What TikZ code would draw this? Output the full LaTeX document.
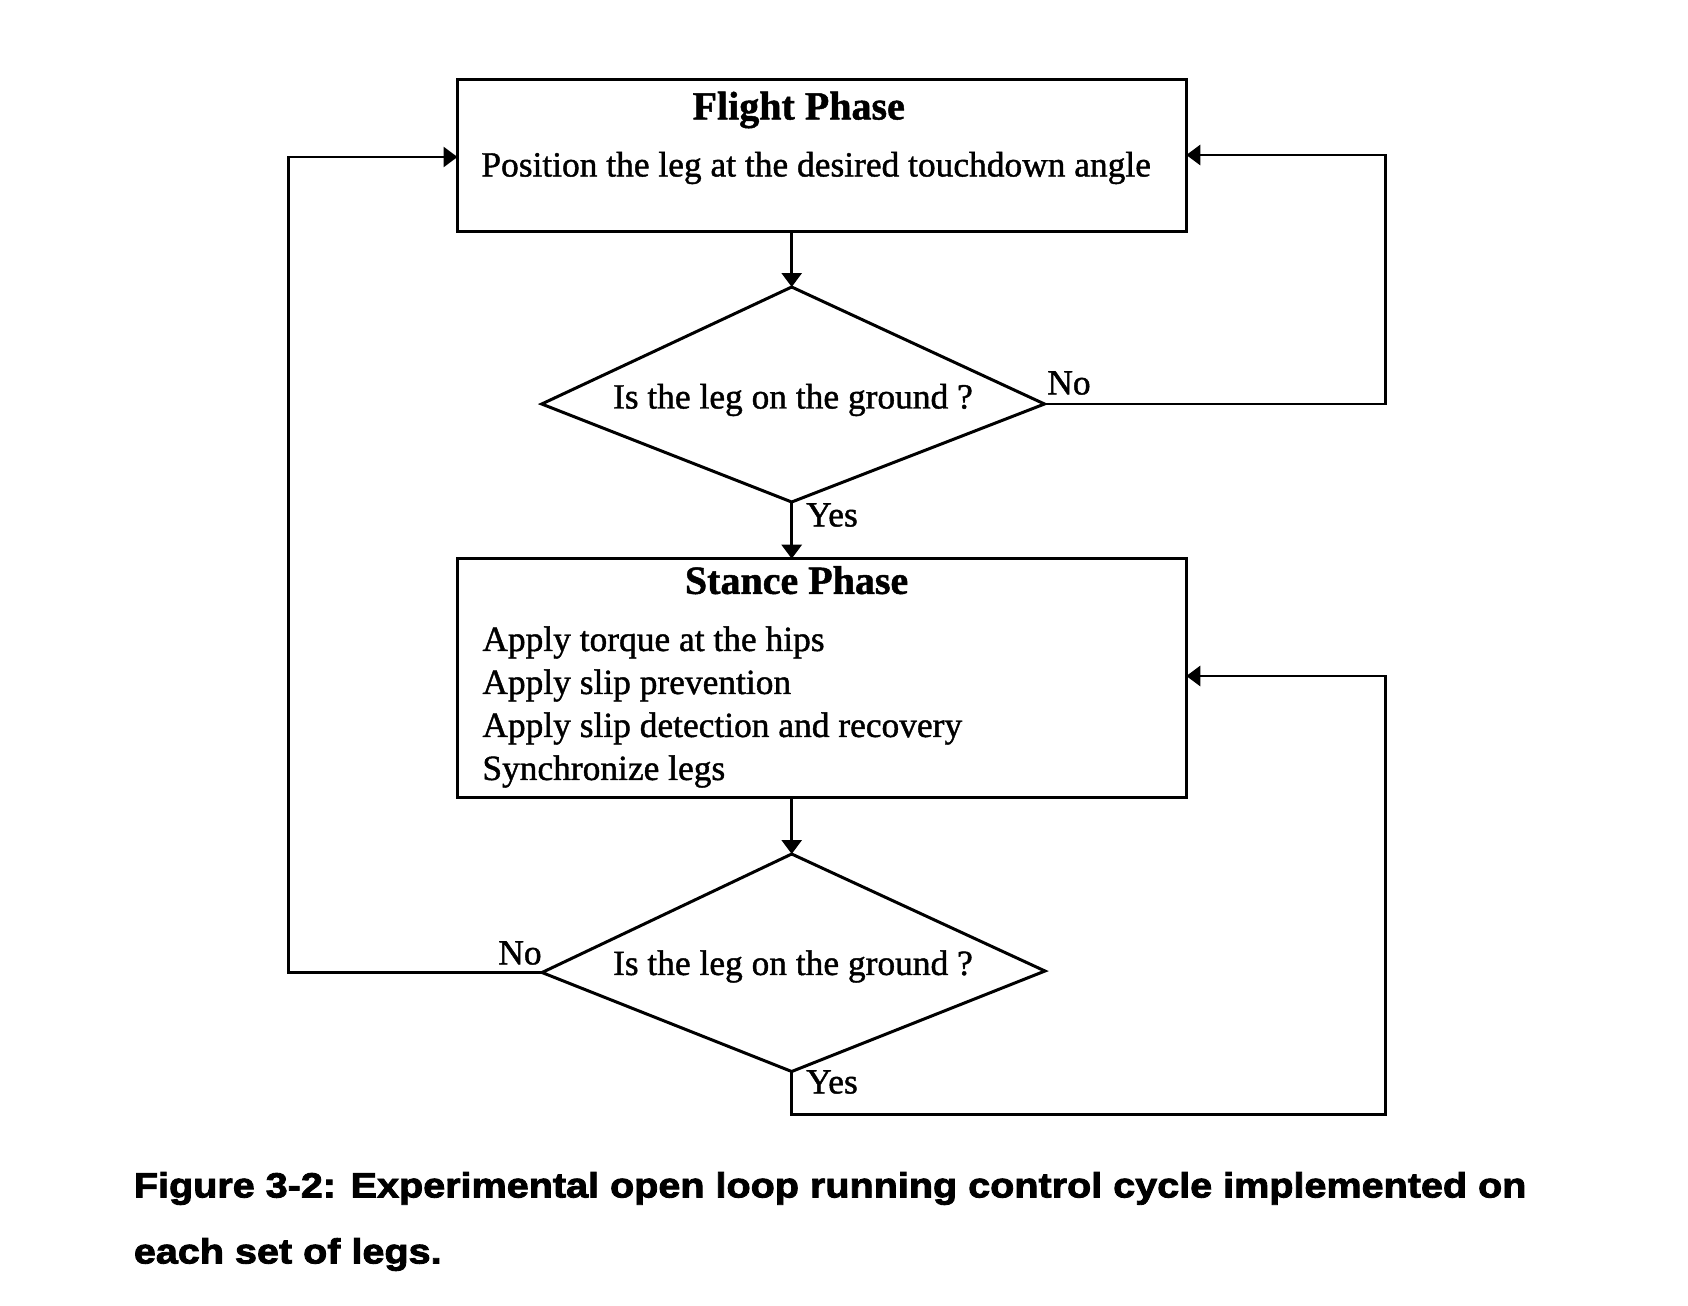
\documentclass[tikz,border=0pt]{standalone}
\usepackage{fontspec}
\setmainfont[FakeBold=1.2]{Liberation Serif}
\newfontfamily\capfont[FakeStretch=1.13, FakeBold=2.5]{Liberation Sans}
\usepackage{tikz}
\usetikzlibrary{arrows.meta}

\tikzset{
  phasebox/.style={draw, line width=1.5pt, minimum width=364.4pt, inner sep=0pt, outer sep=0pt},
  query/.style={line width=1.5pt, line join=miter},
  flow/.style={line width=1.4pt, -{Triangle[length=7pt, width=10pt]}},
  txt/.style={font=\fontsize{17.7}{21.5}\selectfont, inner sep=0pt},
  head/.style={font=\fontsize{20}{24}\selectfont\bfseries, inner sep=0pt}
}

\begin{document}
\begin{tikzpicture}[x=0.5pt, y=-0.5pt]
            \useasboundingbox (0, 0) rectangle (1688, 1306);

            \node (flight) at (821.9, 155.5) [phasebox, minimum height=75.9pt] {};
            \node (stance) at (821.9, 678.2) [phasebox, minimum height=119.5pt] {};

            % the two tests, drawn corner by corner
            \coordinate (d1n) at (791.7, 287);
            \coordinate (d1w) at (541.7, 404);
            \coordinate (d1e) at (1044.5, 404);
            \coordinate (d1s) at (791.7, 502);
            \draw[query] (d1n) -- (d1e) -- (d1s) -- (d1w) -- cycle;

            \coordinate (d2n) at (791.7, 854);
            \coordinate (d2w) at (542, 972.5);
            \coordinate (d2e) at (1045, 971);
            \coordinate (d2s) at (791.7, 1071.5);
            \draw[query] (d2n) -- (d2e) -- (d2s) -- (d2w) -- cycle;

            \node (ftitle) at (798.7, 110) [head] {Flight Phase};
            \node (ftext) at (481, 168) [txt, anchor=west] {Position the leg at the desired touchdown angle};
            \node (q1) at (792.9, 400) [txt] {Is the leg on the ground ?};
            \node (stitle) at (796.6, 580.2) [head] {Stance Phase};
            \node (stext) at (482, 707) [txt, anchor=west, align=left]
                {Apply torque at the hips\\ Apply slip prevention\\ Apply slip detection and recovery\\ Synchronize legs};
            \node (q2) at (792.9, 966.5) [txt] {Is the leg on the ground ?};

            \node (no1) at (1069, 383) [txt] {No};
            \node (yes1) at (832, 515) [txt] {Yes};
            \node (no2) at (520, 953) [txt] {No};
            \node (yes2) at (832, 1082) [txt] {Yes};

            \coordinate (rt1) at (1385.5, 155);
            \coordinate (lt) at (288.5, 157);
            \coordinate (rt2) at (1385.5, 676);
            \coordinate (bt) at (1385.5, 1114.2);

            \draw[flow] (d1n |- flight.south) to (d1n);
            \draw[flow] (d1s) to (d1s |- stance.north);
            \draw[flow] (d2n |- stance.south) to (d2n);

            \draw[flow] (d1e) -| (rt1) -- (flight.east |- rt1);
            \draw[flow] (d2w) -| (lt) -- (flight.west |- lt);
            \draw[flow] (d2s) |- (bt) -- (rt2) -- (stance.east |- rt2);

            \node (caption) at (133.5, 1221.5) [anchor=west, align=left, inner sep=0pt,
                font=\capfont\bfseries\fontsize{17.5}{33}\selectfont]
                {Figure 3-2: Experimental open loop running control cycle implemented on\\ each set of legs.};
        \end{tikzpicture}
\end{document}
